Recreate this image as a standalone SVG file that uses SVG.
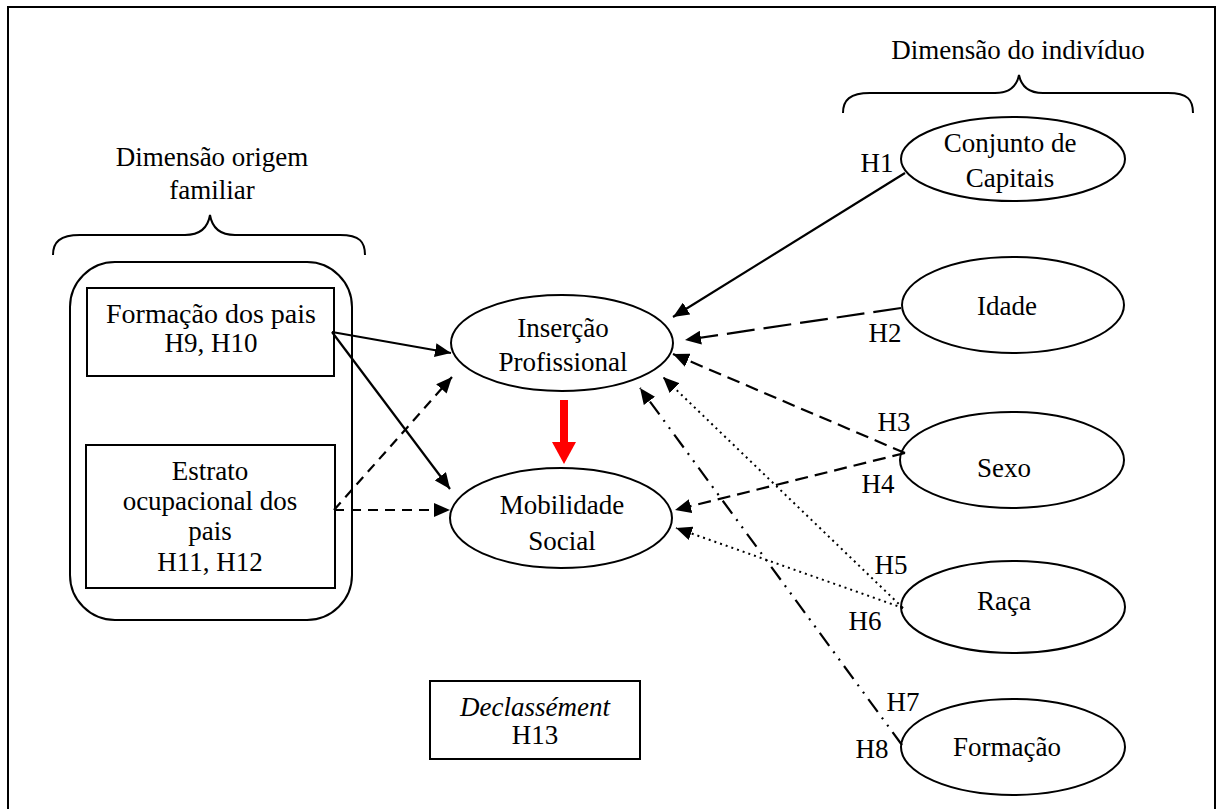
<svg xmlns="http://www.w3.org/2000/svg" width="1219" height="809" viewBox="0 0 1219 809">
<style>
.sh{fill:none;stroke:#000;stroke-width:2}
.c{fill:none;stroke:#000;stroke-width:2.2}
.d1{stroke-dasharray:28 9}
.d2{stroke-dasharray:13 7}
.d3{stroke-dasharray:10 7}
.dot{stroke-dasharray:2 4;stroke-width:2}
.dd{stroke-dasharray:16 7 2 7 2 7}
</style>
<defs>
<marker id="ah" markerUnits="userSpaceOnUse" markerWidth="18" markerHeight="14" refX="16" refY="7" orient="auto">
<path d="M0,0 L16,7 L0,14 Z" fill="#000"/>
</marker>
</defs>
<rect width="1219" height="809" fill="#fff"/>
<path class="sh" d="M8,815 V7 H1215 V815"/>
<g font-family="'Liberation Serif', 'Times New Roman', Times, serif" font-size="27" text-anchor="middle" fill="#000">
<g id="dim-individuo">
<text x="1018" y="59">Dimensão do indivíduo</text>
<path class="sh" d="M843,113 C843,100 850,93 870,93 L995,93 C1010,93 1017,85 1019,75 C1021,85 1028,93 1043,93 L1168,93 C1188,93 1193,100 1193,113"/>
</g>
<g id="dim-origem">
<text x="212" y="166">Dimensão origem</text>
<text x="212" y="199">familiar</text>
<path class="sh" d="M53,255 C53,242 60,235 80,235 L185,235 C200,235 208,227 210,215 C212,227 220,235 235,235 L340,235 C360,235 365,242 365,255"/>
</g>
<g id="origem-container">
<rect class="sh" x="70" y="262" width="282" height="358" rx="45" ry="45"/>
</g>
<g id="formacao-pais">
<rect class="sh" x="87" y="288" width="247" height="88"/>
<text x="211" y="323" font-size="28">Formação dos pais</text>
<text x="211" y="352">H9, H10</text>
</g>
<g id="estrato">
<rect class="sh" x="86" y="445" width="249" height="143"/>
<text x="210" y="480">Estrato</text>
<text x="210" y="510">ocupacional dos</text>
<text x="210" y="540">pais</text>
<text x="210" y="571">H11, H12</text>
</g>
<g id="insercao">
<ellipse class="sh" cx="562" cy="343" rx="111" ry="48"/>
<text x="563" y="337">Inserção</text>
<text x="563" y="371">Profissional</text>
</g>
<g id="mobilidade">
<ellipse class="sh" cx="561" cy="518" rx="111" ry="50"/>
<text x="562" y="514">Mobilidade</text>
<text x="562" y="550">Social</text>
</g>
<g id="declassement">
<rect class="sh" x="430" y="681" width="210" height="78"/>
<text x="535" y="716" font-style="italic">Declassément</text>
<text x="535" y="744">H13</text>
</g>
<g id="conjunto">
<ellipse class="sh" cx="1013" cy="159" rx="112" ry="42"/>
<text x="1010" y="152">Conjunto de</text>
<text x="1010" y="187">Capitais</text>
</g>
<g id="idade">
<ellipse class="sh" cx="1013" cy="305" rx="111" ry="48"/>
<text x="1007" y="315">Idade</text>
</g>
<g id="sexo">
<ellipse class="sh" cx="1012" cy="460" rx="112" ry="48"/>
<text x="1004" y="477">Sexo</text>
</g>
<g id="raca">
<ellipse class="sh" cx="1013" cy="607" rx="112" ry="46"/>
<text x="1004" y="610">Raça</text>
</g>
<g id="formacao">
<ellipse class="sh" cx="1013" cy="747" rx="112" ry="48"/>
<text x="1007" y="756">Formação</text>
</g>

<g id="connectors">
<path d="M564,400 V442" stroke="#f00" stroke-width="8" fill="none"/>
<path d="M552,442 L576,442 L564,464 Z" fill="#f00"/>
<line class="c" x1="905" y1="173" x2="673" y2="317" marker-end="url(#ah)"/>
<line class="c d1" x1="901" y1="308" x2="685" y2="340" marker-end="url(#ah)"/>
<line class="c d2" x1="905" y1="453" x2="673" y2="354" marker-end="url(#ah)"/>
<line class="c d2" x1="905" y1="453" x2="675" y2="510" marker-end="url(#ah)"/>
<line class="c dot" x1="903" y1="608" x2="663" y2="377" marker-end="url(#ah)"/>
<line class="c dot" x1="903" y1="608" x2="676" y2="528" marker-end="url(#ah)"/>
<line class="c dd" x1="902" y1="745" x2="640" y2="388" marker-end="url(#ah)"/>
<line class="c" x1="332" y1="332" x2="451" y2="353" marker-end="url(#ah)"/>
<line class="c" x1="332" y1="332" x2="450" y2="489" marker-end="url(#ah)"/>
<line class="c d3" x1="334" y1="510" x2="452" y2="377" marker-end="url(#ah)"/>
<line class="c d3" x1="334" y1="510" x2="450" y2="510" marker-end="url(#ah)"/>
<text x="877" y="172">H1</text>
<text x="885" y="342">H2</text>
<text x="894" y="431">H3</text>
<text x="878" y="493">H4</text>
<text x="891" y="574">H5</text>
<text x="865" y="630">H6</text>
<text x="903" y="711">H7</text>
<text x="872" y="758">H8</text>
</g>
</g>
</svg>
